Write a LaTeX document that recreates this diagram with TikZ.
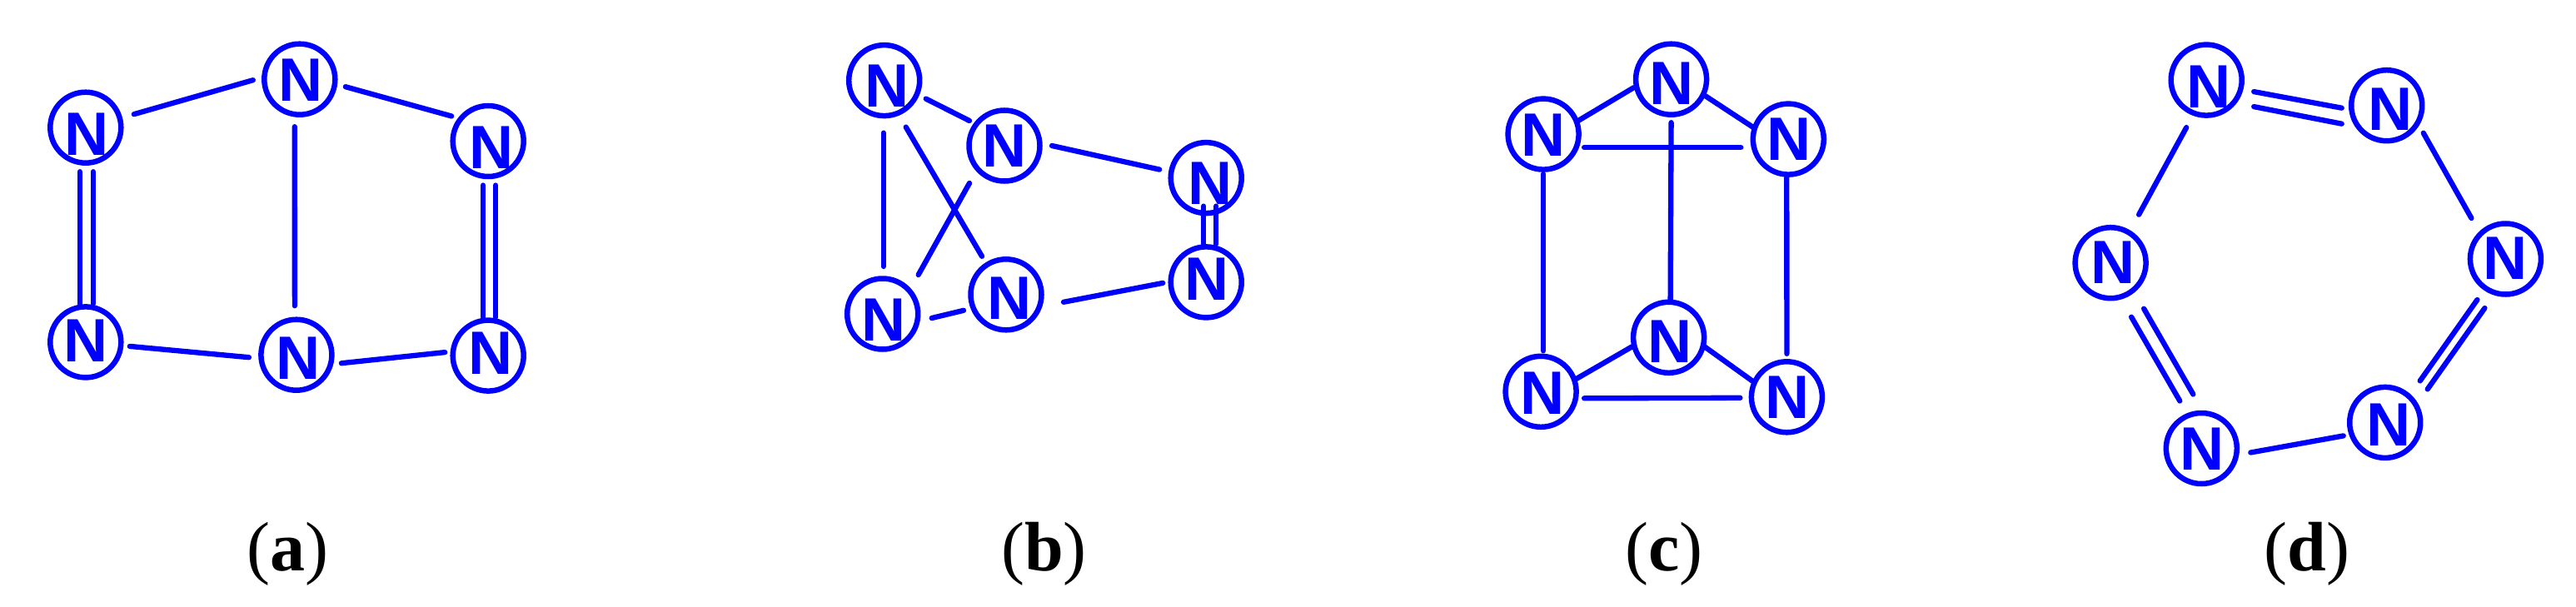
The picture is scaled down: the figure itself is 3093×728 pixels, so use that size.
\documentclass[tikz,border=0pt]{standalone}
\usepackage{fontspec}
\setmainfont{Liberation Serif}
\newfontfamily\nfont{Liberation Sans}
\definecolor{nblue}{RGB}{0,0,255}
% letter set inside its ring with a small individual offset (dx, dy)
\newcommand{\nn}[3]{\smash{\raisebox{\dimexpr-25.5pt-#2pt\relax}{\makebox[0pt]{\kern#1pt\kern#1pt #3}}}}
\newcommand{\bnd}[4]{\draw[bond] ([shift={(#2)}]#1.center) -- ([shift={(#4)}]#3.center);}
\tikzset{
  atom/.style={circle,draw=nblue,line width=6.5pt,minimum size=85pt,inner sep=0pt,text=nblue,font=\nfont\bfseries\fontsize{73.5pt}{80pt}\selectfont},
  bond/.style={draw=nblue,line width=6.3pt,line cap=round},
  caption/.style={text=black,font=\fontsize{84pt}{90pt}\selectfont,inner sep=0pt,anchor=base}
}
\begin{document}
\begin{tikzpicture}[x=1pt,y=-1pt]
\useasboundingbox (0,0) rectangle (3093,728);
% (a)
\node[atom] (a1) at (102.8,153.2) {\nn{1}{8}{N}};
\node[atom] (a2) at (359.8,95.2) {\nn{1}{1}{N}};
\node[atom] (a3) at (586.2,169.5) {\nn{4}{7}{N}};
\node[atom] (a4) at (102.8,410.9) {\nn{0}{-2}{N}};
\node[atom] (a5) at (355.9,426.2) {\nn{2}{4}{N}};
\node[atom] (a6) at (586.2,427.1) {\nn{3}{-3}{N}};
\bnd{a1}{58,-16}{a2}{-56,1}
\bnd{a2}{55,9}{a3}{-44,-30}
\bnd{a2}{-6,57}{a5}{-2,-59}
\bnd{a1}{-7,53}{a4}{-7,-46}
\bnd{a1}{9,53}{a4}{9,-46}
\bnd{a3}{-6,53}{a6}{-6,-46}
\bnd{a3}{9,53}{a6}{9,-46}
\bnd{a4}{53,5}{a5}{-57,3}
\bnd{a5}{54,10}{a6}{-52,-4}
\node[caption] (la) at (345,685) {(\textbf{a})};
% (b)
\node[atom] (b1) at (1061.7,96.6) {\nn{3}{6}{N}};
\node[atom] (b2) at (1206,175) {\nn{0}{0}{N}};
\node[atom] (b3) at (1448.2,213.6) {\nn{5}{6}{N}};
\node[atom] (b4) at (1059.7,377) {\nn{1}{7}{N}};
\node[atom] (b5) at (1208,353.8) {\nn{4}{4}{N}};
\node[atom] (b6) at (1448.2,338.9) {\nn{1}{-4}{N}};
\bnd{b1}{50,22}{b2}{-42,-30}
\bnd{b2}{57,0}{b3}{-56,-10}
\bnd{b1}{-1,63}{b4}{1,-57}
\bnd{b1}{26,56}{b5}{-29,-46}
\bnd{b2}{-42,45}{b4}{43,-47}
\bnd{b4}{59,5}{b5}{-51,19}
\bnd{b5}{69,9}{b6}{-52,1}
\bnd{b3}{-3,34}{b6}{-3,-46}
\bnd{b3}{12,34}{b6}{12,-46}
\node[caption] (lb) at (1253.5,685) {(\textbf{b})};
% (c)
\node[atom] (c1) at (1853.1,161.1) {\nn{0}{1}{N}};
\node[atom] (c2) at (2006.6,95.2) {\nn{0}{5}{N}};
\node[atom] (c3) at (2147.3,167.1) {\nn{1}{0}{N}};
\node[atom] (c4) at (1850.1,470.3) {\nn{2}{2}{N}};
\node[atom] (c5) at (2003.6,405.3) {\nn{1}{5}{N}};
\node[atom] (c6) at (2145.4,476.8) {\nn{1}{0}{N}};
\bnd{c1}{40,-15}{c2}{-45,10}
\bnd{c2}{41,20}{c3}{-42,-14}
\bnd{c1}{49,16}{c3}{-57,10}
\bnd{c2}{0,52}{c5}{2,-45}
\bnd{c1}{0,48}{c4}{3,-49}
\bnd{c3}{-2,46}{c6}{0,-52}
\bnd{c4}{42,-15}{c5}{-44,11}
\bnd{c5}{43,11}{c6}{-41,-19}
\bnd{c4}{52,8}{c6}{-56,1}
\node[caption] (lc) at (1998,685) {(\textbf{c})};
% (d)
\node[atom] (d1) at (2649.2,96.1) {\nn{3}{8}{N}};
\node[atom] (d2) at (2865.7,126.7) {\nn{4}{4}{N}};
\node[atom] (d3) at (3008.4,311) {\nn{0}{-1}{N}};
\node[atom] (d4) at (2863.7,507.4) {\nn{4}{3}{N}};
\node[atom] (d5) at (2643.3,538.5) {\nn{1}{0}{N}};
\node[atom] (d6) at (2534.1,315.7) {\nn{3}{-1}{N}};
\bnd{d1}{57,14}{d2}{-54,3}
\bnd{d1}{57,32}{d2}{-54,22}
\bnd{d1}{-24,57}{d6}{34,-58}
\bnd{d2}{44,33}{d3}{-41,-49}
\bnd{d3}{-34,49}{d4}{42,-50}
\bnd{d3}{-25,59}{d4}{51,-40}
\bnd{d4}{-50,16}{d5}{59,5}
\bnd{d6}{25,65}{d5}{-26,-57}
\bnd{d6}{40,55}{d5}{-10,-65}
\node[caption] (ld) at (2770,685) {(\textbf{d})};
\end{tikzpicture}
\end{document}
